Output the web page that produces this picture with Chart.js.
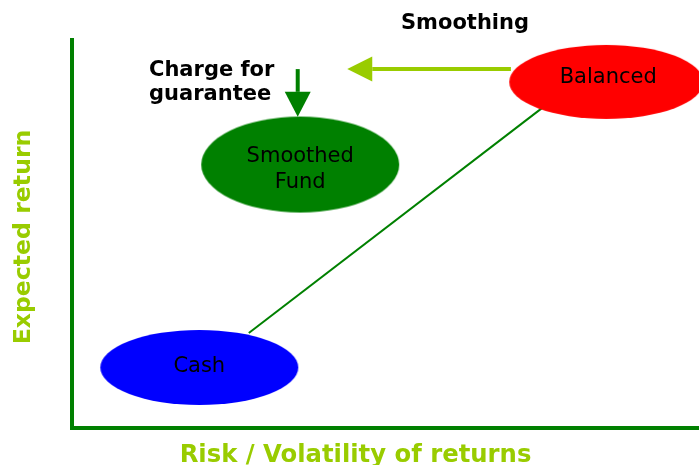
<!DOCTYPE html>
<html>
<head>
<meta charset="utf-8">
<script src="https://cdn.jsdelivr.net/npm/chart.js@4"></script>
<style>
  html, body { margin: 0; padding: 0; background: #fff; }
  #wrap { width: 699px; height: 465px; position: relative; }
</style>
</head>
<body>
<div id="wrap"><canvas id="chart"></canvas></div>
<script>
// funds on the risk / return plane (axis units 0-10)
const funds = ['Cash', 'Smoothed Fund', 'Balanced'];
const fundRisk = [2.03, 3.64, 8.52];
const fundReturn = [1.56, 6.79, 8.92];

// thin line joining cash to balanced
const linkRisk = [2.82, 7.50];
const linkReturn = [2.45, 8.25];

// arrows: [start, tip]
const smoothingRisk = [7.0, 4.39];
const smoothingReturn = [9.25, 9.25];
const chargeRisk = [3.60, 3.60];
const chargeReturn = [9.25, 8.02];

const xTitle = 'Risk / Volatility of returns';
const yTitle = 'Expected return';
const smoothingText = 'Smoothing';
const chargeText = ['Charge for', 'guarantee'];

const FONT = '"DejaVu Sans", Verdana, sans-serif';
const fundColors = ['#0000ff', '#008000', '#ff0000'];
const fundRx = [99, 99, 97];
const fundRy = [37.5, 48, 37];

function ellipseImage(rx, ry, color) {
  const c = document.createElement('canvas');
  c.width = Math.ceil(rx * 2) + 2;
  c.height = Math.ceil(ry * 2) + 2;
  const g = c.getContext('2d');
  g.fillStyle = color;
  g.beginPath();
  g.ellipse(c.width / 2, c.height / 2, rx, ry, 0, 0, Math.PI * 2);
  g.fill();
  return c;
}

function arrow(ctx, x0, y0, x1, y1, color, width, head, half) {
  const a = Math.atan2(y1 - y0, x1 - x0);
  const bx = x1 - head * Math.cos(a), by = y1 - head * Math.sin(a);
  ctx.strokeStyle = color;
  ctx.lineWidth = width;
  ctx.beginPath();
  ctx.moveTo(x0, y0);
  ctx.lineTo(bx, by);
  ctx.stroke();
  ctx.fillStyle = color;
  ctx.beginPath();
  ctx.moveTo(x1, y1);
  ctx.lineTo(bx + half * Math.sin(a), by - half * Math.cos(a));
  ctx.lineTo(bx - half * Math.sin(a), by + half * Math.cos(a));
  ctx.closePath();
  ctx.fill();
}

const overlay = {
  id: 'overlay',
  beforeDatasetsDraw(chart) {
    const {ctx, scales: {x, y}} = chart;
    ctx.save();
    arrow(ctx, x.getPixelForValue(smoothingRisk[0]), y.getPixelForValue(smoothingReturn[0]),
      x.getPixelForValue(smoothingRisk[1]), y.getPixelForValue(smoothingReturn[1]), '#99cc00', 4, 25, 12.5);
    arrow(ctx, x.getPixelForValue(chargeRisk[0]), y.getPixelForValue(chargeReturn[0]),
      x.getPixelForValue(chargeRisk[1]), y.getPixelForValue(chargeReturn[1]), '#008000', 4, 25, 13);
    ctx.restore();
  },
  afterDatasetsDraw(chart) {
    const {ctx} = chart;
    const pts = chart.getDatasetMeta(0).data;
    ctx.save();
    ctx.fillStyle = '#000';
    ctx.textAlign = 'center';
    ctx.textBaseline = 'alphabetic';
    ctx.font = '21px ' + FONT;
    // baseline offsets from each ellipse centre
    const shift = [4.5, -2.8, 1.5];
    funds.forEach((name, i) => {
      const lines = name === 'Smoothed Fund' ? name.split(' ') : [name];
      lines.forEach((t, j) => ctx.fillText(t, pts[i].x + (i === 2 ? 2 : 0), pts[i].y + shift[i] + j * 26.5));
    });

    ctx.font = 'bold 21px ' + FONT;
    ctx.fillText(smoothingText, 465, 28.5);
    ctx.textAlign = 'left';
    ctx.fillText(chargeText[0], 149, 76);
    ctx.fillText(chargeText[1], 149, 100);

    // axis titles
    ctx.fillStyle = '#99cc00';
    ctx.textAlign = 'center';
    ctx.font = 'bold 24.3px ' + FONT;
    ctx.fillText(xTitle, 355.5, 461.5);
    ctx.font = 'bold 23.6px ' + FONT;
    ctx.translate(30, 237);
    ctx.rotate(-Math.PI / 2);
    ctx.fillText(yTitle, 0, 0);
    ctx.restore();
  }
};

new Chart(document.getElementById('chart'), {
  type: 'scatter',
  data: {
    datasets: [{
      label: 'Funds',
      data: funds.map((f, i) => ({x: fundRisk[i], y: fundReturn[i]})),
      pointStyle: funds.map((f, i) => ellipseImage(fundRx[i], fundRy[i], fundColors[i])),
      pointRadius: 10,
      clip: false
    }, {
      type: 'line',
      label: 'Link',
      data: linkRisk.map((v, i) => ({x: v, y: linkReturn[i]})),
      borderColor: '#008000',
      borderWidth: 2,
      pointRadius: 0,
      fill: false
    }]
  },
  options: {
    responsive: true,
    maintainAspectRatio: false,
    animation: false,
    events: [],
    layout: {autoPadding: false, padding: {top: 40, bottom: 37, left: 72, right: 0}},
    plugins: {legend: {display: false}, tooltip: {enabled: false}},
    scales: {
      x: {
        type: 'linear', min: 0, max: 10,
        grid: {display: false, drawTicks: false},
        ticks: {display: false},
        border: {color: '#008000', width: 4}
      },
      y: {
        type: 'linear', min: 0, max: 10,
        grid: {display: false, drawTicks: false},
        ticks: {display: false},
        border: {color: '#008000', width: 4}
      }
    }
  },
  plugins: [overlay]
});
</script>
</body>
</html>
